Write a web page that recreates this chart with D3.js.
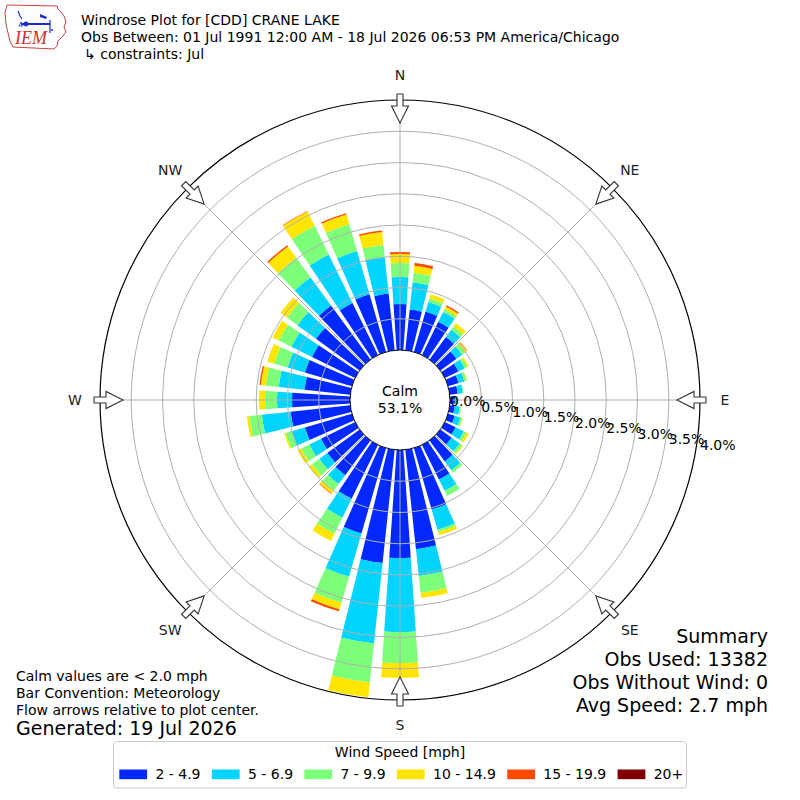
<!DOCTYPE html>
<html><head><meta charset="utf-8">
<script src="https://cdn.jsdelivr.net/npm/d3@7"></script>
<style>
body{margin:0;background:#fff}
svg{display:block}
</style>
</head><body>
<svg id="chart" width="800" height="800" font-family="'DejaVu Sans',sans-serif"></svg>
<script>
// ---------------- data ----------------
const directions = [0,10,20,30,40,50,60,70,80,90,100,110,120,130,140,150,160,170,
                    180,190,200,210,220,230,240,250,260,270,280,290,300,310,320,330,340,350];
const speedBins = ["2 - 4.9","5 - 6.9","7 - 9.9","10 - 14.9","15 - 19.9","20+"];
const binColors = ["#0028ff","#00d4ff","#7dff7a","#ffe500","#ff4800","#800000"];
// percent of observations per direction for each speed bin
const pct2to5   = [0.736,0.656,0.672,0.592,0.448,0.320,0.240,0.176,0.128,0.080,0.080,0.112,0.192,0.224,0.416,0.616,1.024,1.600,
                   1.728,1.824,1.424,0.960,0.688,0.640,0.608,0.784,0.960,0.928,0.736,0.784,0.768,0.864,1.072,0.928,0.960,0.912];
const pct5to7   = [0.432,0.440,0.160,0.176,0.144,0.112,0.112,0.096,0.080,0.032,0.080,0.096,0.144,0.160,0.176,0.203,0.336,0.432,
                   1.184,1.296,0.720,0.336,0.176,0.160,0.208,0.224,0.464,0.240,0.416,0.288,0.368,0.368,0.560,0.864,0.720,0.592];
const pct7to10  = [0.224,0.152,0.064,0.048,0.064,0.064,0.048,0.040,0.016,0.008,0.024,0.032,0.048,0.048,0.048,0.093,0.042,0.272,
                   0.496,0.624,0.432,0.288,0.128,0.144,0.144,0.096,0.202,0.192,0.208,0.224,0.224,0.208,0.384,0.512,0.448,0.192];
const pct10to15 = [0.144,0.112,0.064,0.048,0.064,0.032,0.024,0.008,0.000,0.000,0.000,0.008,0.040,0.016,0.000,0.000,0.051,0.080,
                   0.240,0.240,0.112,0.128,0.064,0.064,0.064,0.024,0.038,0.096,0.080,0.112,0.112,0.128,0.224,0.256,0.160,0.208];
const pct15to20 = [0.032,0.045,0.000,0.024,0.000,0.008,0.000,0.000,0.000,0.000,0.000,0.000,0.000,0.000,0.000,0.000,0.000,0.000,
                   0.000,0.000,0.032,0.000,0.008,0.000,0.000,0.000,0.000,0.000,0.022,0.000,0.000,0.000,0.024,0.008,0.024,0.024];
const pct20plus = [0,0,0,0,0,0,0,0,0,0,0,0,0,0,0,0,0,0,
                   0,0,0,0,0,0,0,0,0,0,0,0,0,0,0,0,0,0];
const radialTicks = [0,0.5,1.0,1.5,2.0,2.5,3.0,3.5,4.0];
const compassLabels = ["N","NE","E","SE","S","SW","W","NW"];
const compassAngles = [0,45,90,135,180,225,270,315];
const calmPct = "53.1%";
const titleLines = ["Windrose Plot for [CDD] CRANE LAKE",
                    "Obs Between: 01 Jul 1991 12:00 AM - 18 Jul 2026 06:53 PM America/Chicago"];
const constraintLine = "\u21b3 constraints: Jul";
const noteLines = ["Calm values are < 2.0 mph","Bar Convention: Meteorology","Flow arrows relative to plot center."];
const generatedLine = "Generated: 19 Jul 2026";
const summaryLines = ["Summary","Obs Used: 13382","Obs Without Wind: 0","Avg Speed: 2.7 mph"];

// ---------------- setup ----------------
const svg = d3.select("#chart");
svg.append("rect").attr("width",800).attr("height",800).attr("fill","#fff");
const cx = 400, cy = 400;
const rScale = d3.scaleLinear().domain([0,4]).range([50,300]);
const aScale = d3.scaleLinear().domain([0,360]).range([0,2*Math.PI]);
const halfW = aScale(3.9);
const FS = "14px", FL = "19px";

const keys = ["b0","b1","b2","b3","b4","b5"];
const seriesArr = [pct2to5,pct5to7,pct7to10,pct10to15,pct15to20,pct20plus];
const table = directions.map((d,i)=>{
  const o = {dir:d};
  keys.forEach((k,j)=>o[k]=seriesArr[j][i]);
  return o;
});
const stacked = d3.stack().keys(keys)(table);

const g = svg.append("g").attr("transform",`translate(${cx},${cy})`);
const arc = d3.arc()
  .innerRadius(d=>rScale(d[0]))
  .outerRadius(d=>rScale(d[1]))
  .startAngle(d=>aScale(d.data.dir)-halfW)
  .endAngle(d=>aScale(d.data.dir)+halfW);

stacked.forEach((layer,j)=>{
  g.append("g").selectAll("path")
    .data(layer.filter(d=>d[1]-d[0]>0))
    .join("path")
    .attr("d",arc)
    .attr("fill",binColors[j]);
});

// gridlines
const grid = g.append("g").attr("fill","none").attr("stroke","#b0b0b0").attr("stroke-width",1);
grid.selectAll("circle").data(radialTicks.filter(t=>t>0 && t<4)).join("circle")
  .attr("r",d=>rScale(d));
grid.selectAll("line").data(compassAngles).join("line")
  .attr("x1",d=>rScale(0)*Math.sin(aScale(d))).attr("y1",d=>-rScale(0)*Math.cos(aScale(d)))
  .attr("x2",d=>rScale(4)*Math.sin(aScale(d))).attr("y2",d=>-rScale(4)*Math.cos(aScale(d)));

// calm circle
g.append("circle").attr("r",rScale(0)).attr("fill","#fff").attr("stroke","#000").attr("stroke-width",1);
g.append("text").attr("text-anchor","middle").attr("y",-4).attr("font-size",FS).text("Calm");
g.append("text").attr("text-anchor","middle").attr("y",12.5).attr("font-size",FS).text(calmPct);

// outer circle
g.append("circle").attr("r",rScale(4)).attr("fill","none").attr("stroke","#000").attr("stroke-width",1.2);

// arrows
g.append("g").selectAll("path").data(compassAngles).join("path")
  .attr("d","M0,-277 L8.5,-294 L3,-294 L3,-306 L-3,-306 L-3,-294 L-8.5,-294 Z")
  .attr("transform",d=>`rotate(${d})`)
  .attr("fill","#fff").attr("stroke","#333").attr("stroke-width",1.1).attr("stroke-linejoin","miter");

// compass labels
g.append("g").selectAll("text").data(compassLabels).join("text")
  .attr("x",(d,i)=>325*Math.sin(aScale(compassAngles[i])))
  .attr("y",(d,i)=>-325*Math.cos(aScale(compassAngles[i])))
  .attr("dy","0.36em").attr("text-anchor","middle").attr("font-size",FS)
  .attr("fill","#222").text(d=>d);

// radial labels
g.append("g").selectAll("text").data(radialTicks).join("text")
  .attr("x",d=>rScale(d))
  .attr("y",d=>1 + 0.1745*(rScale(d)-rScale(0)))
  .attr("dy","0.36em").attr("font-size",FS)
  .text(d=>d.toFixed(1)+"%");

// ---------------- header ----------------
titleLines.forEach((t,i)=>{
  svg.append("text").attr("x",81).attr("y",25+17*i).attr("font-size",FS).text(t);
});
svg.append("text").attr("x",84).attr("y",59).attr("font-size",FS).text(constraintLine);

// logo
const logo = svg.append("g");
logo.append("path")
  .attr("d","M7,5 L57,6 L58,9 L61,12 L64,16 L66,22 L64,27 L66,32 L62,37 L58,41 L57,46 L54,49 L13,47 L10,41 L8,33 L6,24 L5,13 Z")
  .attr("fill","none").attr("stroke","#d04040").attr("stroke-width",1);
logo.append("line").attr("x1",21).attr("y1",24).attr("x2",50).attr("y2",24).attr("stroke","#1a2ad0").attr("stroke-width",2);
logo.append("circle").attr("cx",26).attr("cy",24).attr("r",2.4).attr("fill","#1a2ad0");
logo.append("path").attr("d","M18,11 L20,16 L22,19").attr("fill","none").attr("stroke","#1a2ad0").attr("stroke-width",1.2);
logo.append("path").attr("d","M19,26 L21,22 L23,26 Z").attr("fill","none").attr("stroke","#1a2ad0").attr("stroke-width",0.8);
logo.append("path").attr("d","M40,14 L47,17 L46,19 L40,17 Z").attr("fill","#1a2ad0");
logo.append("line").attr("x1",50).attr("y1",20).attr("x2",50).attr("y2",33).attr("stroke","#1a2ad0").attr("stroke-width",1.2);
logo.append("circle").attr("cx",52).attr("cy",30).attr("r",1).attr("fill","#1a2ad0");
logo.append("text").attr("x",15).attr("y",44)
  .style("font-family","'Liberation Serif','DejaVu Serif',serif")
  .style("font-style","italic").style("font-size","18px").style("fill","#d03030").text("IEM");

// ---------------- footer notes ----------------
noteLines.forEach((t,i)=>{
  svg.append("text").attr("x",16).attr("y",681+17*i).attr("font-size",FS).text(t);
});
svg.append("text").attr("x",16).attr("y",735).attr("font-size",FL).text(generatedLine);
summaryLines.forEach((t,i)=>{
  svg.append("text").attr("x",768).attr("y",643+23*i).attr("text-anchor","end").attr("font-size",FL).text(t);
});

// ---------------- legend ----------------
const leg = svg.append("g");
leg.append("rect").attr("x",113.5).attr("y",741.5).attr("width",573).attr("height",46.5).attr("rx",3)
  .attr("fill","#fff").attr("stroke","#cccccc").attr("stroke-width",1);
leg.append("text").attr("x",400).attr("y",757).attr("text-anchor","middle").attr("font-size",FS).text("Wind Speed [mph]");
let lx = 119.3;
speedBins.forEach((lab,i)=>{
  leg.append("rect").attr("x",lx).attr("y",769.5).attr("width",27.8).attr("height",9.7).attr("fill",binColors[i]);
  const t = leg.append("text").attr("x",lx+27.8+8.3).attr("y",779).attr("font-size",FS).text(lab);
  const w = t.node().getComputedTextLength();
  lx = lx + 27.8 + 8.3 + w + 11.3;
});
</script>
</body></html>
